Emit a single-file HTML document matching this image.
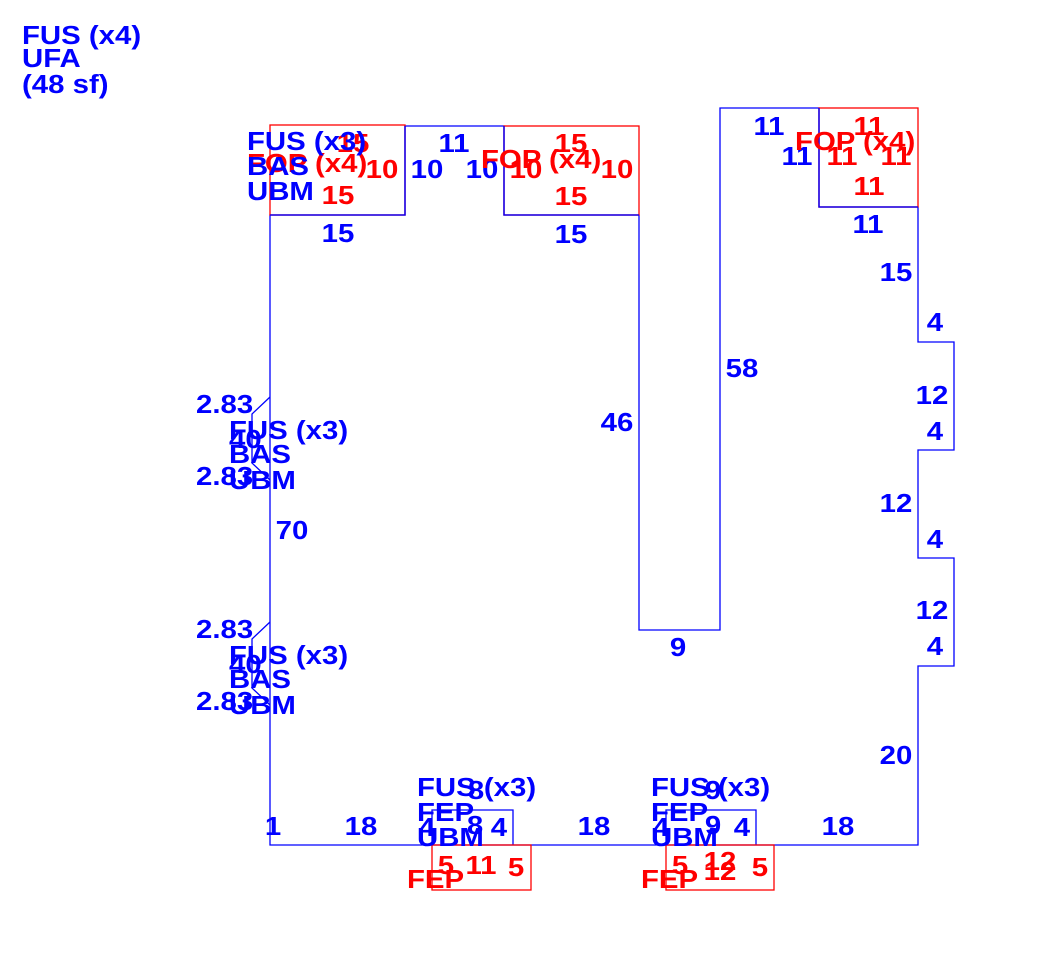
<!DOCTYPE html>
<html><head><meta charset="utf-8"><style>
html,body{margin:0;padding:0;background:#fff;}
svg{display:block;}
text{font-family:"Liberation Sans",Arial,sans-serif;font-weight:bold;font-size:26px;transform-box:fill-box;transform-origin:left center;transform:scaleX(1.13);}
text[text-anchor="middle"]{transform-origin:center center;}
.b{fill:#0000ff;} .r{fill:#ff0000;}
</style></head><body>
<svg width="1049" height="955" viewBox="0 0 1049 955" xmlns="http://www.w3.org/2000/svg">
<g fill="none" stroke-width="1.3">
<path stroke="#0000ff" d="M270,845 L270,215 L405,215 L405,126 L504,126 L504,215 L639,215 L639,630 L720,630 L720,108 L819,108 L819,207 L918,207 L918,342 L954,342 L954,450 L918,450 L918,558 L954,558 L954,666 L918,666 L918,845 Z"/>
<path stroke="#0000ff" d="M270,397 L252,414 L252,463 L270,480 M270,622 L252,639 L252,688 L270,705"/>
<path stroke="#0000ff" d="M432,845 L432,810 L513,810 L513,845 M666,845 L666,810 L756,810 L756,845"/>
<rect stroke="#ff0000" x="270" y="125" width="135" height="90"/>
<rect stroke="#ff0000" x="504" y="126" width="135" height="89"/>
<rect stroke="#ff0000" x="819" y="108" width="99" height="99"/>
<rect stroke="#ff0000" x="432" y="845" width="99" height="45"/>
<rect stroke="#ff0000" x="666" y="845" width="108" height="45"/>
<path stroke="#0000ff" d="M270,215 L405,215 L405,126 M504,126 L504,215 L639,215 M819,108 L819,207 L918,207"/>
</g>
<text class="b" x="22" y="44">FUS (x4)</text>
<text class="b" x="22" y="67">UFA</text>
<text class="b" x="22" y="93">(48 sf)</text>

<text class="r" x="247" y="172">FOP (x4)</text>
<text class="r" x="353" y="152" text-anchor="middle">15</text>
<text class="r" x="382" y="178" text-anchor="middle">10</text>
<text class="r" x="338" y="204" text-anchor="middle">15</text>
<text class="b" x="247" y="150">FUS (x3)</text>
<text class="b" x="247" y="175">BAS</text>
<text class="b" x="247" y="200">UBM</text>
<text class="b" x="338" y="242" text-anchor="middle">15</text>
<text class="b" x="454" y="152" text-anchor="middle">11</text>
<text class="b" x="427" y="178" text-anchor="middle">10</text>
<text class="b" x="482" y="178" text-anchor="middle">10</text>

<text class="r" x="481" y="168">FOP (x4)</text>
<text class="r" x="571" y="152" text-anchor="middle">15</text>
<text class="r" x="526" y="178" text-anchor="middle">10</text>
<text class="r" x="617" y="178" text-anchor="middle">10</text>
<text class="r" x="571" y="205" text-anchor="middle">15</text>
<text class="b" x="571" y="243" text-anchor="middle">15</text>

<text class="b" x="769" y="135" text-anchor="middle">11</text>
<text class="b" x="797" y="165" text-anchor="middle">11</text>
<text class="r" x="795" y="150">FOP (x4)</text>
<text class="r" x="869" y="135" text-anchor="middle">11</text>
<text class="r" x="842" y="165" text-anchor="middle">11</text>
<text class="r" x="896" y="165" text-anchor="middle">11</text>
<text class="r" x="869" y="195" text-anchor="middle">11</text>
<text class="b" x="868" y="233" text-anchor="middle">11</text>

<text class="b" x="896" y="281" text-anchor="middle">15</text>
<text class="b" x="935" y="331" text-anchor="middle">4</text>
<text class="b" x="932" y="404" text-anchor="middle">12</text>
<text class="b" x="935" y="440" text-anchor="middle">4</text>
<text class="b" x="896" y="512" text-anchor="middle">12</text>
<text class="b" x="935" y="548" text-anchor="middle">4</text>
<text class="b" x="932" y="619" text-anchor="middle">12</text>
<text class="b" x="935" y="655" text-anchor="middle">4</text>
<text class="b" x="896" y="764" text-anchor="middle">20</text>

<text class="b" x="742" y="377" text-anchor="middle">58</text>
<text class="b" x="617" y="431" text-anchor="middle">46</text>
<text class="b" x="678" y="656" text-anchor="middle">9</text>

<text class="b" x="196" y="413">2.83</text>
<text class="b" x="229" y="439">FUS (x3)</text>
<text class="b" x="229" y="448">40</text>
<text class="b" x="229" y="463">BAS</text>
<text class="b" x="196" y="485">2.83</text>
<text class="b" x="229" y="489">UBM</text>
<text class="b" x="292" y="539" text-anchor="middle">70</text>
<text class="b" x="196" y="638">2.83</text>
<text class="b" x="229" y="664">FUS (x3)</text>
<text class="b" x="229" y="673">40</text>
<text class="b" x="229" y="688">BAS</text>
<text class="b" x="196" y="710">2.83</text>
<text class="b" x="229" y="714">UBM</text>

<text class="b" x="273" y="835" text-anchor="middle">1</text>
<text class="b" x="361" y="835" text-anchor="middle">18</text>
<text class="b" x="594" y="835" text-anchor="middle">18</text>
<text class="b" x="838" y="835" text-anchor="middle">18</text>

<text class="b" x="417" y="796">FUS (x3)</text>
<text class="b" x="476" y="799" text-anchor="middle">8</text>
<text class="b" x="417" y="821">FEP</text>
<text class="b" x="427" y="836" text-anchor="middle">4</text>
<text class="b" x="475" y="834" text-anchor="middle">8</text>
<text class="b" x="499" y="836" text-anchor="middle">4</text>
<text class="b" x="417" y="846">UBM</text>
<text class="r" x="446" y="874" text-anchor="middle">5</text>
<text class="r" x="481" y="874" text-anchor="middle">11</text>
<text class="r" x="516" y="876" text-anchor="middle">5</text>
<text class="r" x="407" y="888">FEP</text>

<text class="b" x="651" y="796">FUS (x3)</text>
<text class="b" x="713" y="799" text-anchor="middle">9</text>
<text class="b" x="651" y="821">FEP</text>
<text class="b" x="661" y="836" text-anchor="middle">4</text>
<text class="b" x="713" y="834" text-anchor="middle">9</text>
<text class="b" x="742" y="836" text-anchor="middle">4</text>
<text class="b" x="651" y="846">UBM</text>
<text class="r" x="680" y="874" text-anchor="middle">5</text>
<text class="r" x="720" y="870" text-anchor="middle">12</text>
<text class="r" x="720" y="880" text-anchor="middle">12</text>
<text class="r" x="760" y="876" text-anchor="middle">5</text>
<text class="r" x="641" y="888">FEP</text>
</svg>
</body></html>
